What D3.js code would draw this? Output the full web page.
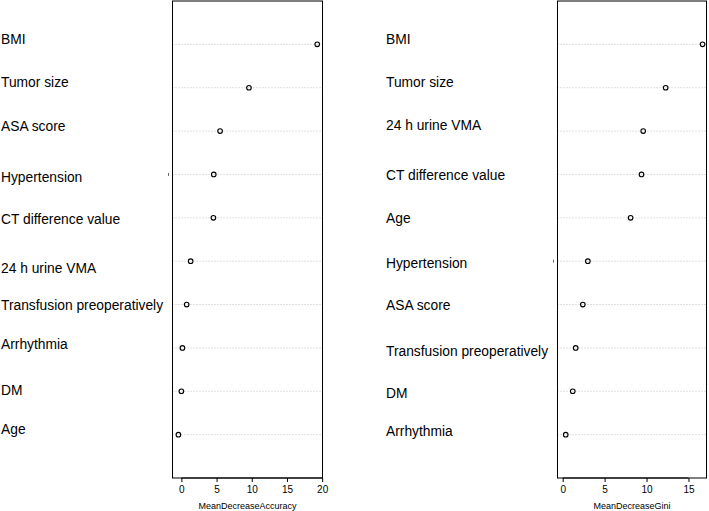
<!DOCTYPE html>
<html><head><meta charset="utf-8">
<script src="https://cdn.jsdelivr.net/npm/d3@7"></script>
<style>body{margin:0;background:#fff}svg{display:block}text{font-family:"Liberation Sans",Arial,sans-serif}</style>
</head><body><svg id="c" width="709" height="511"></svg>
<script>
// ---- data ----
const accVars = ["BMI","Tumor size","ASA score","Hypertension","CT difference value","24 h urine VMA","Transfusion preoperatively","Arrhythmia","DM","Age"];
const accVals = [19.3, 9.6, 5.5, 4.6, 4.55, 1.32, 0.75, 0.15, 0.0, -0.42];
const giniVars = ["BMI","Tumor size","24 h urine VMA","CT difference value","Age","Hypertension","ASA score","Transfusion preoperatively","DM","Arrhythmia"];
const giniVals = [16.68, 12.28, 9.6, 9.4, 8.1, 3.0, 2.4, 1.55, 1.2, 0.36];
const accTicks = [0,5,10,15,20];
const giniTicks = [0,5,10,15];

// ---- layout ----
const accNudge = [-5.4,-5.4,-5.3,3.2,1.5,7,1.1,-3.6,-1.3,-5.3];
const giniNudge = [-5.4,-5.4,-6,0.5,0,2,1,3,2,-3];
const svg = d3.select("#c");

function panel(vars, vals, ticks, title, labelX, frame, domain, nudge){
  const g = svg.append("g");
  const x = d3.scaleLinear().domain(domain).range([frame.x0, frame.x1]);
  const y = d3.scalePoint().domain(vars).range([frame.y0, frame.y1]).padding(1);
  g.selectAll("text.lab").data(vars).join("text").attr("class","lab")
    .attr("x", labelX).attr("y",(d,i)=>y(d)+nudge[i]).attr("dy","0.35em")
    .attr("font-size",13.8).attr("fill","#000").text(d=>d);
  g.selectAll("line.grid").data(vars).join("line").attr("class","grid")
    .attr("x1",frame.x0).attr("x2",frame.x1).attr("y1",d=>y(d)).attr("y2",d=>y(d))
    .attr("stroke","#b0b0b0").attr("stroke-width",0.8).attr("stroke-dasharray","1,2");
  g.append("rect").attr("x",frame.x0).attr("y",frame.y0).attr("width",frame.x1-frame.x0).attr("height",frame.y1-frame.y0)
    .attr("fill","none").attr("stroke","#000").attr("stroke-width",1);
  g.selectAll("circle").data(vals).join("circle")
    .attr("cx",d=>x(d)).attr("cy",(d,i)=>y(vars[i])).attr("r",2.3)
    .attr("fill","none").attr("stroke","#000").attr("stroke-width",1.1);
  g.append("line").attr("x1",frame.x0-4).attr("x2",frame.x0-4)
    .attr("y1",y("Hypertension")-1.5).attr("y2",y("Hypertension")+1.5)
    .attr("stroke","#444").attr("stroke-width",0.8);
  const ax = g.append("g").attr("transform",`translate(0,${frame.y1})`)
    .call(d3.axisBottom(x).tickValues(ticks).tickSize(4).tickPadding(4).tickSizeOuter(0));
  ax.select(".domain").attr("d",`M${x(ticks[0])},0H${x(ticks[ticks.length-1])}`).attr("stroke","#000");
  ax.selectAll("text").attr("font-size",10).attr("font-family","Liberation Sans, Arial, sans-serif").attr("fill","#000");
  g.append("text").attr("x",(frame.x0+frame.x1)/2).attr("y",frame.y1+28).attr("dy","0.35em")
    .attr("text-anchor","middle").attr("font-size",9).attr("fill","#000").text(title);
}
panel(accVars, accVals, accTicks, "MeanDecreaseAccuracy", 1, {x0:172.5,x1:322.5,y0:1,y1:478}, [-1.26,20.05], accNudge);
panel(giniVars, giniVals, giniTicks, "MeanDecreaseGini", 386, {x0:557.5,x1:706.5,y0:1,y1:478}, [-0.62,17.15], giniNudge);
</script></body></html>
